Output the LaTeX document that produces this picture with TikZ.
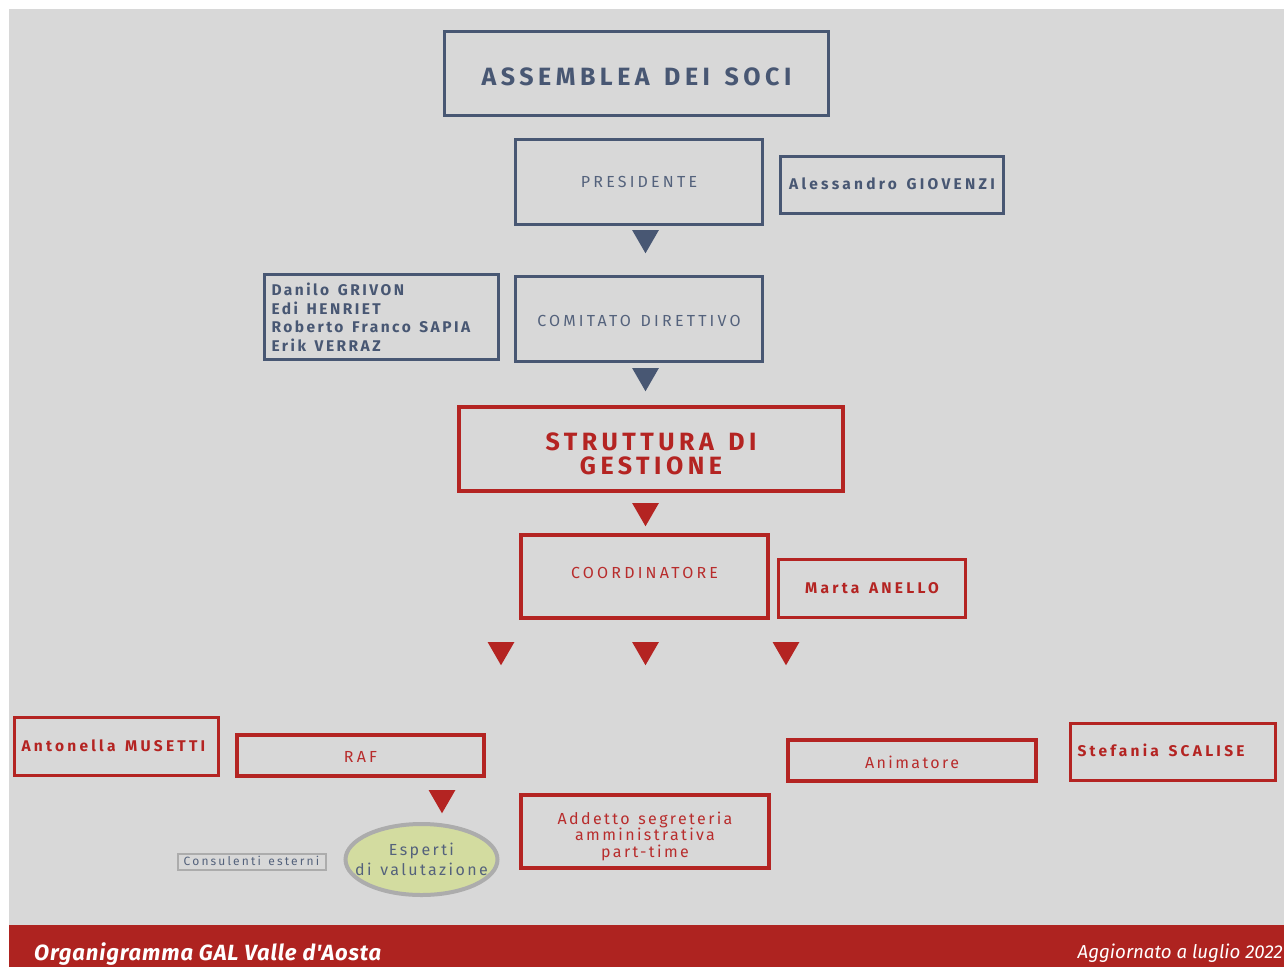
\documentclass[tikz,border=0pt]{standalone}
\usepackage{fontspec}
\setmainfont{Fira Sans}
\newfontfamily\capsreg[LetterSpace=20,WordSpace=1.3]{Fira Sans}
\newfontfamily\mixreg[LetterSpace=15,WordSpace=1.3]{Fira Sans}
\newfontfamily\namebold[LetterSpace=21,WordSpace=1.4]{Fira Sans}
\newfontfamily\namesbox[LetterSpace=16,WordSpace=1.4]{Fira Sans}
\newfontfamily\titlecaps[LetterSpace=18,WordSpace=1.3]{Fira Sans}
\newfontfamily\consul[LetterSpace=18,WordSpace=1.4]{Fira Sans}
\newfontfamily\footfont[LetterSpace=4]{Fira Sans}
\usetikzlibrary{shapes.geometric}
\definecolor{navy}{RGB}{72,87,115}
\definecolor{navytext}{RGB}{84,98,124}
\definecolor{gred}{RGB}{180,36,34}
\definecolor{redtext}{RGB}{184,44,44}
\definecolor{footred}{RGB}{174,35,32}
\definecolor{bggrey}{RGB}{216,216,216}
\definecolor{ellfill}{RGB}{211,220,160}
\definecolor{ellline}{RGB}{172,172,172}
\newcommand{\fs}[2]{\fontsize{#1}{#2}\selectfont}
\tikzset{
  box/.style={draw, inner sep=0pt, align=center},
  nbox/.style={box, draw=navy, line width=3pt, text=navytext},
  rbox/.style={box, draw=gred, line width=3.5pt, text=redtext},
  bl/.style={text height=20pt+#1, text depth=20pt-#1},
  tri/.style={regular polygon, regular polygon sides=3, shape border rotate=180,
    minimum size=31pt, inner sep=0pt, draw=none},
  ntri/.style={tri, fill=navy},
  rtri/.style={tri, fill=gred},
}
\begin{document}
\begin{tikzpicture}[x=1pt,y=-1pt]
\useasboundingbox (0,0) rectangle (1284,967);
\fill[white] (0,0) rectangle (1284,967);
\fill[bggrey] (9,9) rectangle (1284,925);
\fill[footred] (9,925) rectangle (1284,967);

% navy part
\node[nbox, bl=12.1pt, minimum width=384pt, minimum height=84pt, font=\titlecaps\bfseries\fs{25}{28}, text=navy] (assemblea) at (636.5,73.5) {ASSEMBLEA DEI SOCI};
\node[nbox, bl=5.5pt, minimum width=247pt, minimum height=85pt, font=\capsreg\fs{16}{19}] (presidente) at (639,182) {PRESIDENTE};
\node[nbox, bl=4.3pt, minimum width=223pt, minimum height=57pt, font=\namebold\bfseries\fs{15.5}{18}, text=navy] (giovenzi) at (892,185) {Alessandro GIOVENZI};
\node[ntri] (t1) at (645.5,237.75) {};
\node[nbox, minimum width=234pt, minimum height=85pt, text width=220pt, align=flush left, font=\namesbox\bfseries\fs{15.5}{18.5}, text=navy] (names) at (381.5,317) {Danilo GRIVON\\Edi HENRIET\\Roberto Franco SAPIA\\Erik VERRAZ};
\node[nbox, bl=7.5pt, minimum width=247pt, minimum height=85pt, font=\capsreg\fs{16}{19}] (comitato) at (639,319) {COMITATO DIRETTIVO};
\node[ntri] (t2) at (645.5,375.75) {};

% red part
\node[rbox, line width=4pt, minimum width=384pt, minimum height=84pt, font=\titlecaps\bfseries\fs{25}{24}, text=gred] (struttura) at (651,449) {\rule{0pt}{27pt}STRUTTURA DI\\GESTIONE};
\node[rtri] (t3) at (645.5,510.75) {};
\node[rbox, bl=2pt, line width=4pt, minimum width=247pt, minimum height=83pt, font=\capsreg\fs{16}{19}] (coord) at (644.5,576.5) {COORDINATORE};
\node[rbox, bl=4.8pt, line width=3pt, minimum width=187pt, minimum height=58pt, font=\namebold\bfseries\fs{15.5}{18}, text=gred] (anello) at (872,588.5) {Marta ANELLO};
\node[rtri] (t4) at (501,649.75) {};
\node[rtri] (t5) at (645.5,649.75) {};
\node[rtri] (t6) at (786,649.75) {};

\node[rbox, bl=4.8pt, line width=2.5pt, minimum width=204pt, minimum height=58pt, text width=190pt, align=flush left, font=\namebold\bfseries\fs{15.5}{18}, text=gred] (musetti) at (116.5,746.5) {Antonella MUSETTI};
\node[rbox, bl=7pt, line width=4pt, minimum width=247pt, minimum height=41pt, font=\capsreg\fs{16}{19}] (raf) at (360.5,755.5) {RAF};
\node[rtri] (t7) at (442,797.75) {};
\node[rbox, bl=8pt, line width=4pt, minimum width=248pt, minimum height=41pt, font=\mixreg\fs{16}{19}] (animatore) at (912,760.5) {Animatore};
\node[rbox, bl=4.3pt, line width=3pt, minimum width=205pt, minimum height=57pt, text width=191pt, align=flush left, font=\namebold\bfseries\fs{15.5}{18}, text=gred] (scalise) at (1173,752) {Stefania SCALISE};
\node[rbox, line width=4pt, minimum width=248pt, minimum height=73pt, font=\mixreg\fs{16}{16.5}] (addetto) at (645,831.5) {\rule{0pt}{21.7pt}Addetto segreteria\\amministrativa\\part-time};

\node[ellipse, draw=ellline, line width=4pt, fill=ellfill, minimum width=152pt, minimum height=71pt, inner xsep=-14pt, inner ysep=0pt, align=center, text=navytext, font=\mixreg\fs{16}{20}] (esperti) at (421.5,859.5) {Esperti\\di valutazione};
\node[draw=ellline, line width=2pt, text height=8.5pt, text depth=0pt, minimum width=148pt, minimum height=16pt, inner sep=0pt, text=navytext, font=\consul\fs{12}{12}] (consulenti) at (251.5,861.5) {Consulenti esterni};

% footer
\node[anchor=base west, inner sep=0pt, text=white, font=\footfont\bfseries\itshape\fs{22}{24}] (footl) at (34,960) {Organigramma GAL Valle d'Aosta};
\node[anchor=base east, inner sep=0pt, text=white, font=\itshape\fs{18.7}{20}] (footr) at (1283,958) {Aggiornato a luglio 2022};
\end{tikzpicture}
\end{document}
